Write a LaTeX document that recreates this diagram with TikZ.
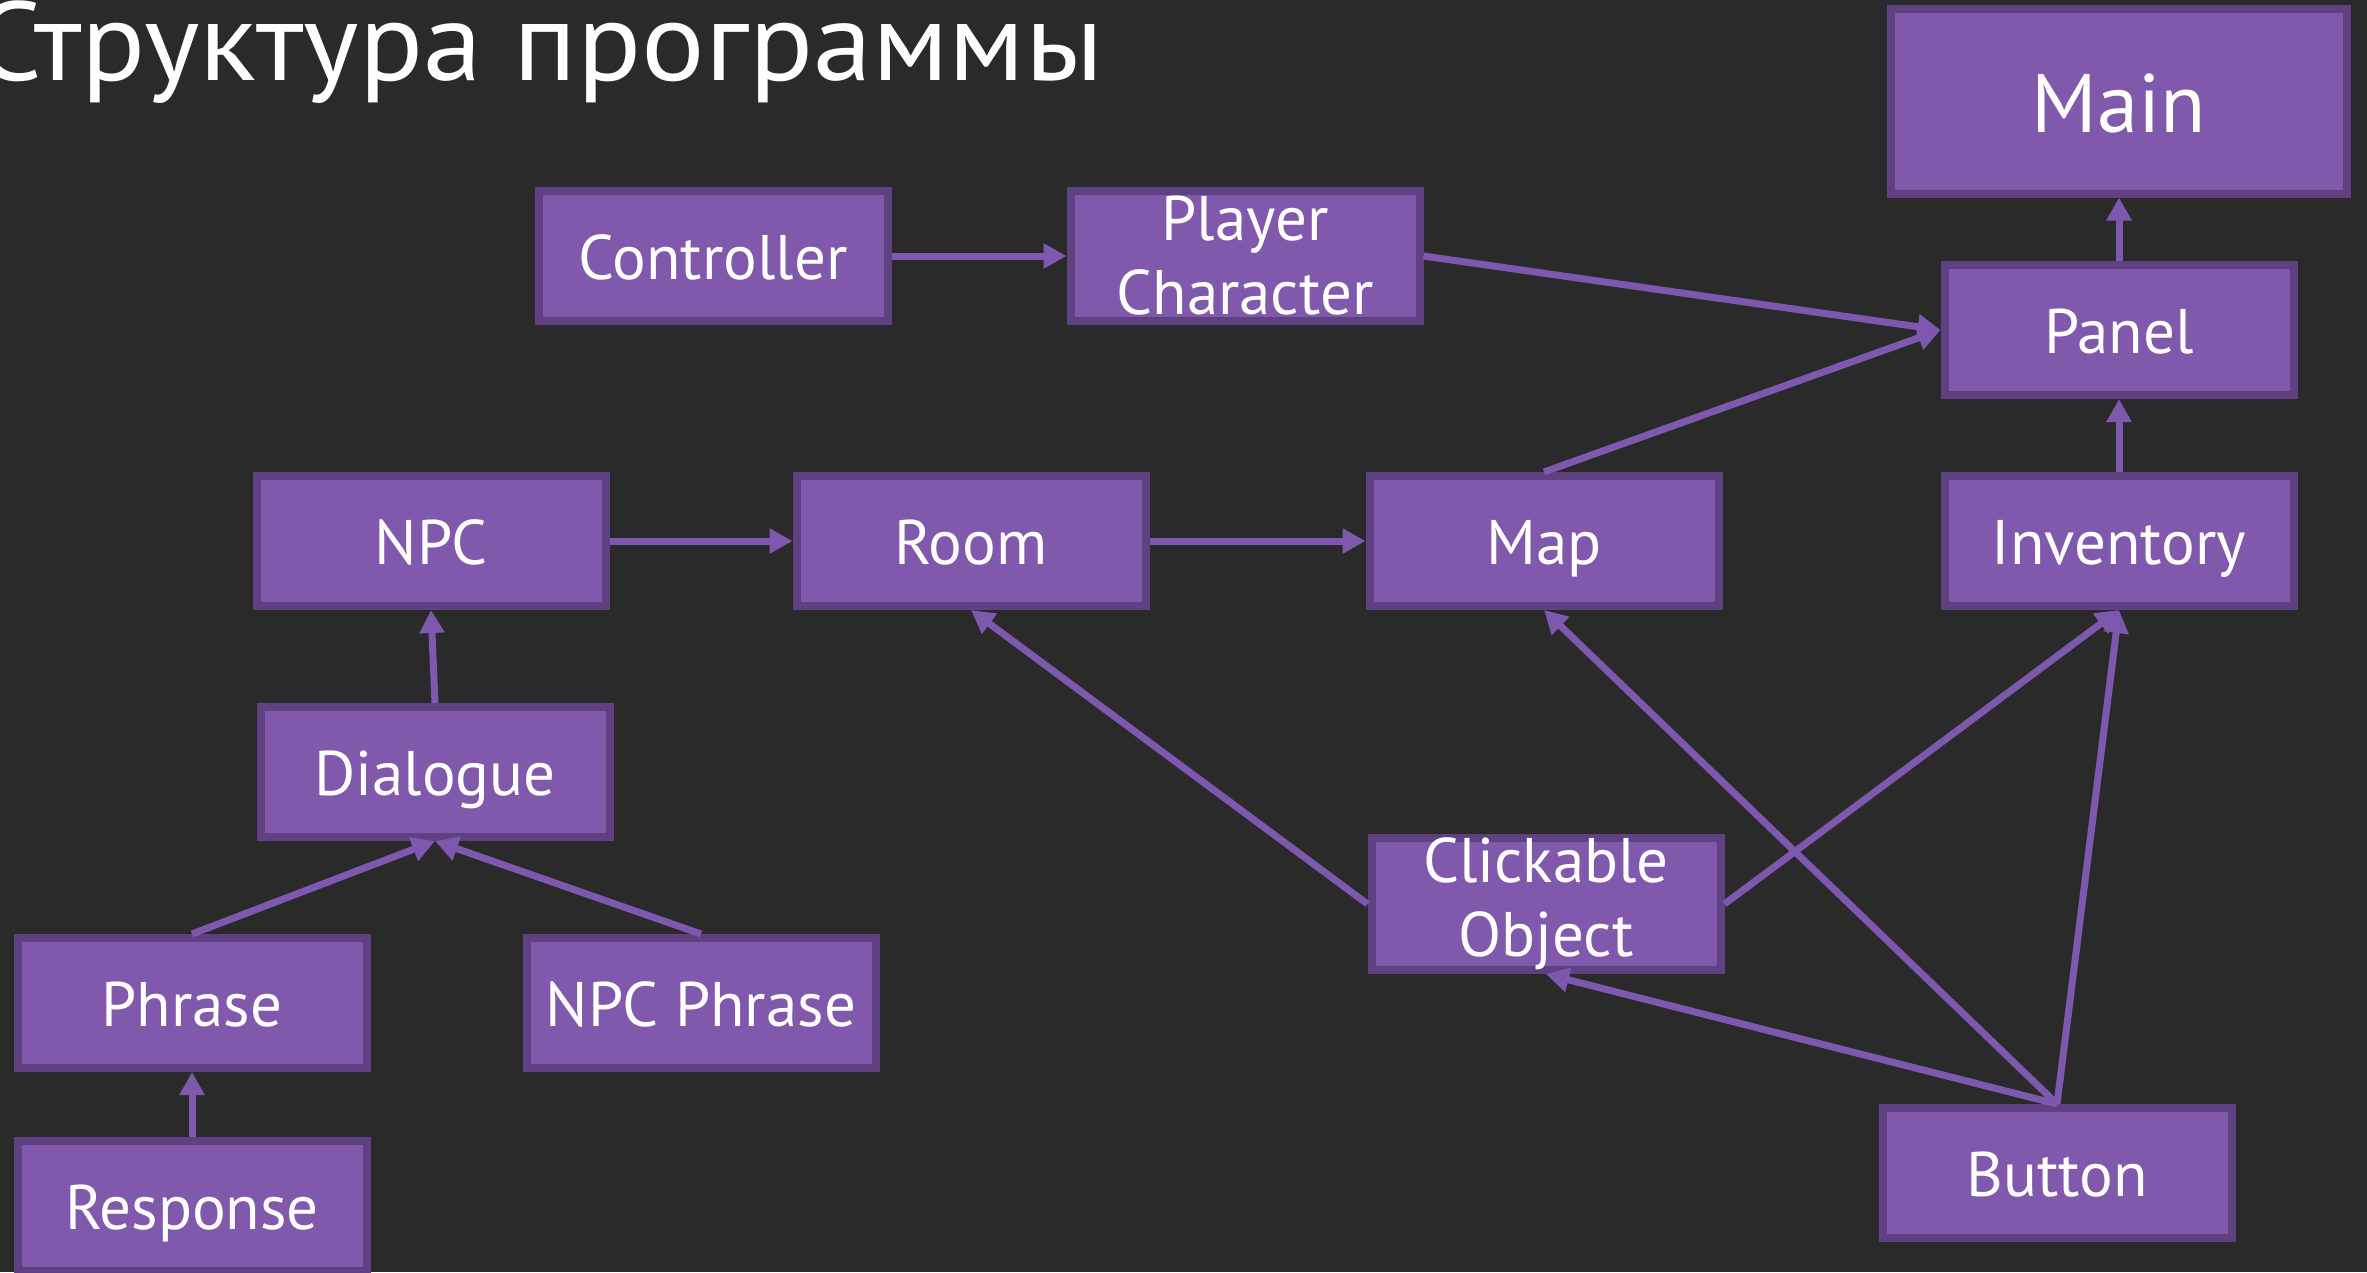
\documentclass[tikz,border=0pt]{standalone}
\usepackage{fontspec}
\setmainfont{PT Sans}
\usetikzlibrary{arrows.meta}
\definecolor{slidebg}{HTML}{2A2A2A}
\definecolor{boxfill}{HTML}{8059AC}
\definecolor{boxline}{HTML}{5F4080}
\definecolor{linkcol}{HTML}{7E57AE}

\begin{document}
\begin{tikzpicture}[x=1pt,y=-1pt,
    cls/.style={draw=boxline,fill=boxfill,line width=8pt,minimum width=349pt,minimum height=130pt,
                inner sep=0pt,text=white,align=center,text height=60pt,text depth=14pt,
                font=\fontsize{63}{74}\selectfont},
    twoline/.style={text height={},text depth={}},
    link/.style={draw=linkcol,line width=7pt,-{Triangle[width=24pt,length=23pt]}}]
            \fill[slidebg] (0,0) rectangle (2367,1272);
            \useasboundingbox (0,0) rectangle (2367,1272);
            \node[text=white,anchor=base east,inner sep=0pt,xscale=1.06,font=\fontsize{112}{130}\selectfont] (title) at (1104,80) {Структура программы};
            % top row
            \node[cls,minimum width=456pt,minimum height=185pt,text height=80pt,text depth=18pt,
                  font=\fontsize{83}{96}\selectfont] (main) at (2119,101) {Main};
            \node[cls] (ctrl) at (713,256) {Controller};
            \node[cls,twoline] (player) at (1245,256) {Player\\Character};
            \node[cls] (panel) at (2119,330) {Panel};
            % middle row
            \node[cls] (npc) at (431,541) {NPC};
            \node[cls] (room) at (971,541) {Room};
            \node[cls] (map) at (1544,541) {Map};
            \node[cls] (inv) at (2119,541) {Inventory};
            \node[cls] (dlg) at (435,772) {Dialogue};
            \node[cls,twoline] (click) at (1546,904) {Clickable\\Object};
            % bottom
            \node[cls] (phrase) at (192,1003) {Phrase};
            \node[cls] (npcphr) at (701,1003) {NPC Phrase};
            \node[cls] (resp) at (192,1206) {Response};
            \node[cls] (btn) at (2057,1173) {Button};
            % links
            \draw[link] (ctrl) -- (player);
            \draw[link] (player.east) -- (panel.west);
            \draw[link] (map.north) -- (panel.west);
            \draw[link] (panel) -- (main);
            \draw[link] (inv) -- (panel);
            \draw[link] (npc) -- (room);
            \draw[link] (room) -- (map);
            \draw[link] (dlg.north) -- (npc.south);
            \draw[link] (phrase.north) -- (dlg.south);
            \draw[link] (npcphr.north) -- (dlg.south);
            \draw[link] (resp) -- (phrase);
            \draw[link] (click.west) -- (room.south);
            \draw[link] (click.east) -- (inv.south);
            \draw[link] (btn.north) -- (map.south);
            \draw[link] (btn.north) -- (inv.south);
            \draw[link] (btn.north) -- (click.south);
\end{tikzpicture}
\end{document}
